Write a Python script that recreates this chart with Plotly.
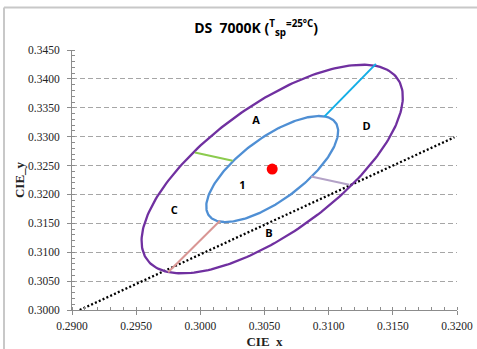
import numpy as np
import plotly.graph_objects as go

# ---- data ----
center_xy = (0.3056, 0.3244)             # red target point
outer_ellipse = dict(a=0.019584, b=0.006788, angle_deg=65.61)   # purple
inner_ellipse = dict(a=0.009973, b=0.003339, angle_deg=65.43)   # blue

locus_x = [0.2906, 0.3198]
locus_y = [0.3000, 0.3299]

seg_cyan_x = [0.30966, 0.31368]
seg_cyan_y = [0.33347, 0.34259]
seg_green_x = [0.29958, 0.30252]
seg_green_y = [0.32726, 0.32583]
seg_lilac_x = [0.30863, 0.31161]
seg_lilac_y = [0.32312, 0.32168]
seg_salmon_x = [0.30153, 0.29749]
seg_salmon_y = [0.31546, 0.30653]

label_text = ["A", "D", "1", "C", "B"]
label_x = [0.30435, 0.31295, 0.30327, 0.29797, 0.30535]
label_y = [0.33261, 0.33165, 0.32139, 0.31707, 0.31316]

x_ticks = [0.2900, 0.2950, 0.3000, 0.3050, 0.3100, 0.3150, 0.3200]
y_ticks = [0.3000, 0.3050, 0.3100, 0.3150, 0.3200, 0.3250, 0.3300,
           0.3350, 0.3400, 0.3450]


def ellipse_pts(c, a, b, angle_deg, n=240):
    t = np.linspace(0, 2 * np.pi, n)
    th = np.deg2rad(angle_deg)
    x = c[0] + a * np.cos(th) * np.cos(t) - b * np.sin(th) * np.sin(t)
    y = c[1] + a * np.sin(th) * np.cos(t) + b * np.cos(th) * np.sin(t)
    return x, y


fig = go.Figure()

fig.add_trace(go.Scatter(x=locus_x, y=locus_y, mode="lines",
                         line=dict(color="black", width=2.3, dash="2px,2.2px"),
                         hoverinfo="skip"))

ox, oy = ellipse_pts(center_xy, **outer_ellipse)
fig.add_trace(go.Scatter(x=ox, y=oy, mode="lines",
                         line=dict(color="#7030A0", width=2.3)))
ix, iy = ellipse_pts(center_xy, **inner_ellipse)
fig.add_trace(go.Scatter(x=ix, y=iy, mode="lines",
                         line=dict(color="#4F8FD4", width=2.3)))

for sx, sy, col in [(seg_cyan_x, seg_cyan_y, "#14AEE6"),
                    (seg_green_x, seg_green_y, "#8CCB4E"),
                    (seg_lilac_x, seg_lilac_y, "#B3A2C7"),
                    (seg_salmon_x, seg_salmon_y, "#D99694")]:
    fig.add_trace(go.Scatter(x=sx, y=sy, mode="lines",
                             line=dict(color=col, width=2)))

fig.add_trace(go.Scatter(x=[center_xy[0]], y=[center_xy[1]], mode="markers",
                         marker=dict(color="#FF0000", size=11)))

fig.add_trace(go.Scatter(x=label_x, y=label_y, mode="text", text=label_text,
                         textfont=dict(family="Open Sans", size=11, color="black",
                                       weight="bold")))

axis_font = dict(family="Liberation Serif", size=11.5, color="#222")
fig.update_xaxes(range=[0.29, 0.32], tickvals=x_ticks,
                 ticktext=[f"{v:.4f}" for v in x_ticks],
                 showgrid=False, zeroline=False, automargin=False,
                 showline=True, linecolor="#8C8C8C", linewidth=1,
                 ticks="outside", ticklen=4, tickcolor="#8C8C8C",
                 ticklabelstandoff=1,
                 minor=dict(dtick=0.001, ticks="inside", ticklen=3,
                            tickcolor="#8C8C8C", showgrid=False),
                 tickfont=axis_font,
                 title=dict(text="<b>CIE  x</b>", standoff=6,
                            font=dict(family="Liberation Serif", size=13, color="#222")))
fig.update_yaxes(range=[0.30, 0.345], tickvals=y_ticks,
                 ticktext=[f"{v:.4f}" for v in y_ticks],
                 showgrid=True, gridcolor="#A6A6A6", gridwidth=1, griddash="5px,3px",
                 zeroline=False, automargin=False,
                 showline=True, linecolor="#8C8C8C", linewidth=1,
                 ticks="outside", ticklen=4, tickcolor="#8C8C8C",
                 ticklabelstandoff=5,
                 minor=dict(dtick=0.001, ticks="inside", ticklen=3,
                            tickcolor="#8C8C8C", showgrid=False),
                 tickfont=axis_font,
                 title=dict(text="<b>CIE_y</b>", standoff=0,
                            font=dict(family="Liberation Serif", size=13, color="#222")))

fig.update_layout(
    width=477, height=349,
    margin=dict(l=72, r=20, t=50, b=38.5),
    paper_bgcolor="white", plot_bgcolor="white",
    showlegend=False,
    title=dict(text="<b>DS  7000K (<sup>T</sup><sub>sp</sub><sup>=25°C</sup>)</b>",
               x=0.537, xanchor="center", y=0.92, yanchor="middle",
               font=dict(family="Open Sans", size=14, color="black")),
    shapes=[
        dict(type="line", xref="paper", yref="paper", x0=-0.1766, x1=1.06,
             y0=1.163, y1=1.163, line=dict(color="#C8C8C8", width=2)),
        dict(type="line", xref="paper", yref="paper", x0=-0.1766, x1=-0.1766,
             y0=1.163, y1=-0.16, line=dict(color="#C8C8C8", width=2)),
    ],
)

fig.write_html("out.html")
